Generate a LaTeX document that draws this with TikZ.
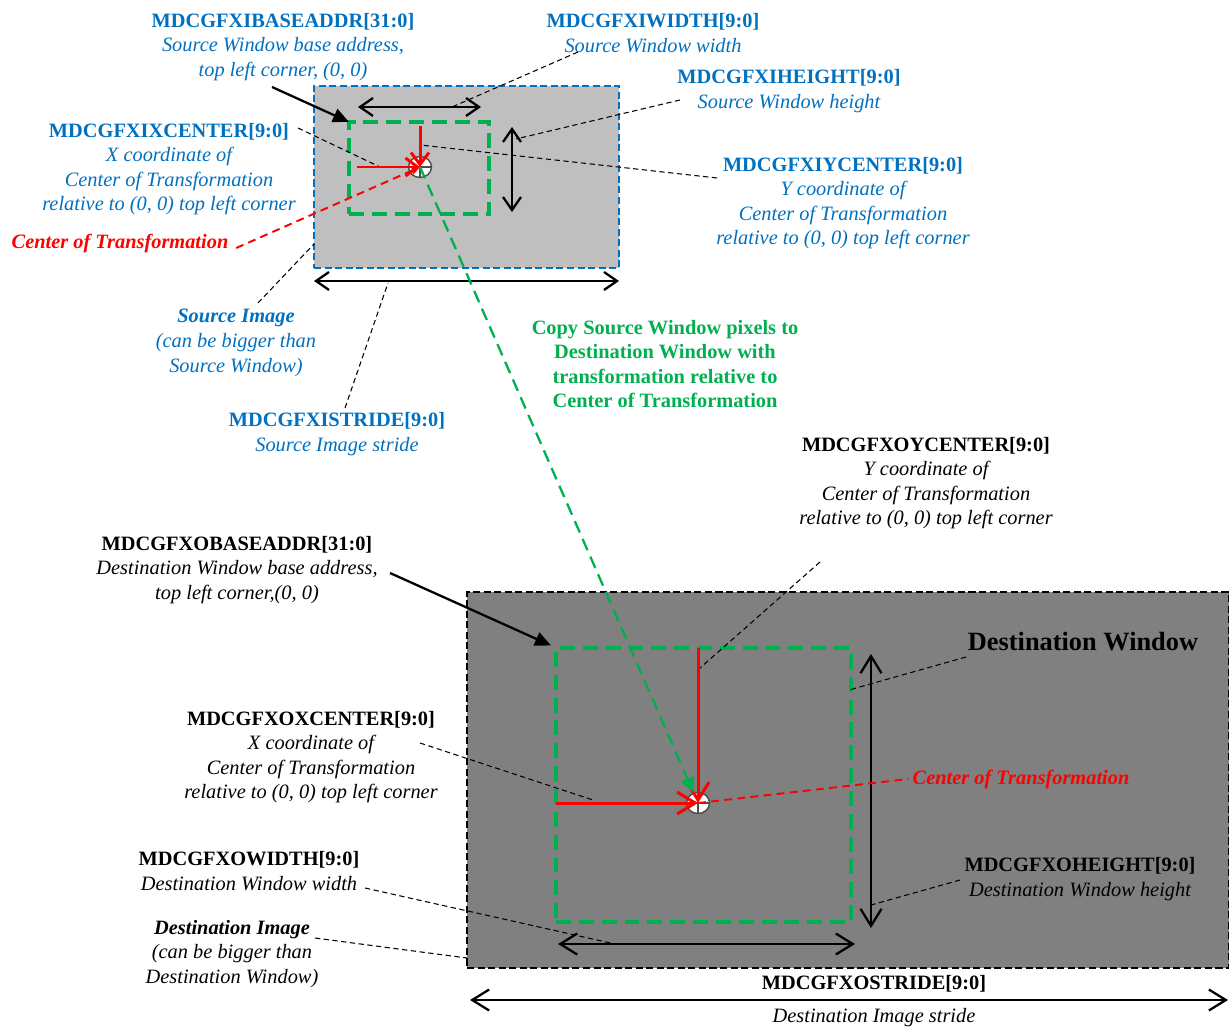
\documentclass[tikz,border=0pt]{standalone}
\usepackage{fontspec}
\setmainfont{Liberation Serif}
\usetikzlibrary{arrows.meta,shapes.geometric,fit}

\definecolor{regblue}{RGB}{0,112,192}
\definecolor{copygreen}{RGB}{0,176,80}
\definecolor{srcgray}{RGB}{191,191,191}
\definecolor{dstgray}{RGB}{128,128,128}

\newcommand{\regname}[1]{\textbf{\upshape #1}}

\begin{document}
\begin{tikzpicture}[
    x=0.02cm, y=-0.02cm,
    lbl/.style={
        align=center,
        inner sep=0pt,
        font=\fontsize{11.6}{14}\selectfont\itshape
    },
    srclbl/.style={lbl, text=regblue},
    dstlbl/.style={lbl, text=black},
    cotlbl/.style={
        inner sep=0pt,
        text=red,
        font=\fontsize{11.6}{14}\selectfont\bfseries\itshape
    },
    imgbox/.style={
        inner sep=0pt,
        outer sep=0pt,
        line width=0.9pt,
        dash pattern=on 4pt off 2pt
    },
    winbox/.style={
        inner sep=0pt,
        outer sep=0pt,
        draw=copygreen,
        line width=2.3pt,
        dash pattern=on 8.5pt off 4.5pt
    },
    ctr/.style={
        ellipse,
        draw=gray!60!black,
        fill=white,
        line width=0.8pt,
        minimum width=0.46cm,
        minimum height=0.42cm,
        inner sep=0pt,
        path picture={
            \draw[gray!60!black, line width=0.7pt]
                (path picture bounding box.west) -- (path picture bounding box.east)
                (path picture bounding box.north) -- (path picture bounding box.south);
        }
    },
    dimarrow/.style={
        {Straight Barb[length=2.6mm,width=3.6mm]}-{Straight Barb[length=2.6mm,width=3.6mm]},
        line width=1.3pt
    },
    bigdim/.style={
        {Straight Barb[length=3.4mm,width=4.2mm]}-{Straight Barb[length=3.4mm,width=4.2mm]},
        line width=1.3pt
    },
    ctrarrow/.style={
        -{Straight Barb[length=2.4mm,width=3.6mm]},
        draw=red,
        line width=1.7pt
    },
    bigctr/.style={
        ctrarrow,
        -{Straight Barb[length=3.6mm,width=4.4mm]}
    },
    basearrow/.style={
        -{Triangle[length=3.2mm,width=2.8mm]},
        line width=1.3pt
    },
    leader/.style={
        line width=0.6pt,
        dash pattern=on 3pt off 2pt
    },
    cotline/.style={
        draw=red,
        line width=1.1pt,
        dash pattern=on 4.5pt off 3pt
    },
    copyline/.style={
        -{Triangle[length=3mm,width=2.8mm]},
        draw=copygreen,
        line width=1.3pt,
        dash pattern=on 7pt off 4pt
    }
]

\useasboundingbox (0,0) rectangle (1229,1030);

% ---------------- Source side ----------------
\coordinate (simg-nw) at (314,86);
\coordinate (simg-se) at (619,268);
\node[imgbox, draw=regblue, fill=srcgray, fit=(simg-nw)(simg-se)] (simg) {};

\coordinate (swin-nw) at (349,122);
\coordinate (swin-se) at (489,214);
\node[winbox, fit=(swin-nw)(swin-se)] (swin) {};

\node[ctr] (sctr) at (420,167) {};

% window width / height / image stride
\coordinate (sw-a) at (358,107);
\coordinate (sw-b) at (481,107);
\draw[dimarrow] (sw-a) -- (sw-b);
\coordinate (sh-a) at (512,127);
\coordinate (sh-b) at (512,212);
\draw[dimarrow] (sh-a) -- (sh-b);
\draw[dimarrow] ([yshift=-0.26cm]simg.south west) -- ([yshift=-0.26cm]simg.south east);

% labels
\node[srclbl] (ibase) at (283,47)
    {\regname{MDCGFXIBASEADDR[31:0]}\\Source Window base address,\\top left corner, (0, 0)};
\node[srclbl] (iwidth) at (653,33)
    {\regname{MDCGFXIWIDTH[9:0]}\\Source Window width};
\node[srclbl] (iheight) at (789,91)
    {\regname{MDCGFXIHEIGHT[9:0]}\\Source Window height};
\node[srclbl] (iycenter) at (843,203)
    {\regname{MDCGFXIYCENTER[9:0]}\\Y coordinate of\\Center of Transformation\\relative to (0, 0) top left corner};
\node[srclbl] (ixcenter) at (169,169)
    {\regname{MDCGFXIXCENTER[9:0]}\\X coordinate of\\Center of Transformation\\relative to (0, 0) top left corner};
\node[cotlbl] (scot) at (120,243) {Center of Transformation};
\node[srclbl] (simglbl) at (236,343)
    {\textbf{Source Image}\\(can be bigger than\\Source Window)};
\node[srclbl] (istride) at (337,434)
    {\regname{MDCGFXISTRIDE[9:0]}\\Source Image stride};

% leaders
\coordinate (ibase-t) at (272,87);
\draw[basearrow] (ibase-t) -- (swin.north west);
\coordinate (iwidth-t) at (578,52);
\coordinate (iwidth-h) at (452,107);
\draw[leader] (iwidth-t) -- (iwidth-h);
\coordinate (iheight-t) at (680,100);
\coordinate (iheight-h) at (516,139);
\draw[leader] (iheight-t) -- (iheight-h);
\coordinate (iycenter-t) at (717,178);
\coordinate (iycenter-h) at (420,145);
\draw[leader] (iycenter-t) -- (iycenter-h);
\coordinate (ixcenter-t) at (298,128);
\coordinate (ixcenter-h) at (380,167);
\draw[leader] (ixcenter-t) -- (ixcenter-h);
\coordinate (simglbl-t) at (258,303);
\coordinate (simglbl-h) at (314,244);
\draw[leader] (simglbl-t) -- (simglbl-h);
\coordinate (istride-t) at (345,408);
\coordinate (istride-h) at (388,283);
\draw[leader] (istride-t) -- (istride-h);

% ---------------- Destination side ----------------
\coordinate (dimg-nw) at (467,592);
\coordinate (dimg-se) at (1229,968);
\node[imgbox, draw=black, fill=dstgray, fit=(dimg-nw)(dimg-se)] (dimg) {};

\coordinate (dwin-nw) at (556,648);
\coordinate (dwin-se) at (851,922);
\node[winbox, fit=(dwin-nw)(dwin-se)] (dwin) {};

\node[ctr] (dctr) at (698,803) {};

% window width / height / image stride
\coordinate (dw-a) at (558,944);
\coordinate (dw-b) at (855,944);
\draw[bigdim] (dw-a) -- (dw-b);
\coordinate (dh-a) at (871,654);
\coordinate (dh-b) at (871,928);
\draw[bigdim] (dh-a) -- (dh-b);
\coordinate (ds-a) at (470,1000);
\coordinate (ds-b) at (1228,1000);
\draw[bigdim] (ds-a) -- (ds-b);

% labels
\node[dstlbl] (obase) at (237,570)
    {\regname{MDCGFXOBASEADDR[31:0]}\\Destination Window base address,\\top left corner,(0, 0)};
\node[dstlbl] (oycenter) at (926,483)
    {\regname{MDCGFXOYCENTER[9:0]}\\Y coordinate of\\Center of Transformation\\relative to (0, 0) top left corner};
\node[inner sep=0pt, font=\fontsize{15}{18}\selectfont\bfseries] (dwinlbl) at (1083,642) {Destination Window};
\node[dstlbl] (oxcenter) at (311,757)
    {\regname{MDCGFXOXCENTER[9:0]}\\X coordinate of\\Center of Transformation\\relative to (0, 0) top left corner};
\node[cotlbl] (dcot) at (1021,779) {Center of Transformation};
\node[dstlbl] (oheight) at (1080,879)
    {\regname{MDCGFXOHEIGHT[9:0]}\\Destination Window height};
\node[dstlbl] (owidth) at (249,871)
    {\regname{MDCGFXOWIDTH[9:0]}\\Destination Window width};
\node[dstlbl] (dimglbl) at (232,954)
    {\textbf{Destination Image}\\(can be bigger than\\Destination Window)};
\node[dstlbl, font=\fontsize{11.6}{14}\selectfont\bfseries] (ostride) at (874,984) {MDCGFXOSTRIDE[9:0]};
\node[dstlbl] (ostridedesc) at (874,1018) {Destination Image stride};

% leaders
\coordinate (obase-t) at (390,573);
\draw[basearrow] (obase-t) -- ([shift={(-0.1cm,0.05cm)}]dwin.north west);
\coordinate (oycenter-t) at (820,562);
\coordinate (oycenter-h) at (700,668);
\draw[leader] (oycenter-t) -- (oycenter-h);
\coordinate (dwinlbl-t) at (966,657);
\coordinate (dwinlbl-h) at (849,690);
\draw[leader] (dwinlbl-t) -- (dwinlbl-h);
\coordinate (oxcenter-t) at (420,743);
\coordinate (oxcenter-h) at (593,800);
\draw[leader] (oxcenter-t) -- (oxcenter-h);
\coordinate (oheight-t) at (960,880);
\coordinate (oheight-h) at (871,905);
\draw[leader] (oheight-t) -- (oheight-h);
\coordinate (owidth-t) at (365,888);
\coordinate (owidth-h) at (615,944);
\draw[leader] (owidth-t) -- (owidth-h);
\coordinate (dimglbl-t) at (315,938);
\coordinate (dimglbl-h) at (467,958);
\draw[leader] (dimglbl-t) -- (dimglbl-h);

% ---------------- Center of transformation markers ----------------
\draw[cotline, -{Stealth[length=2mm,width=1.8mm]}] ([shift={(0.15cm,-0.1cm)}]scot.east) -- (sctr.center);
\draw[cotline] (dctr.center) -- ([xshift=-0.08cm]dcot.west);

\draw[ctrarrow] ([xshift=0.16cm]swin.west |- sctr) -- (sctr.center);
\draw[ctrarrow] ([yshift=-0.08cm]swin.north -| sctr) -- (sctr.center);
\draw[bigctr] (dwin.west |- dctr) -- (dctr.center);
\draw[bigctr] (dwin.north -| dctr) -- (dctr.center);

% copy path
\node[font=\fontsize{11.6}{14}\selectfont\bfseries, text=copygreen, align=center, inner sep=0pt] (copy) at (665,364)
    {Copy Source Window pixels to\\Destination Window with\\transformation relative to\\Center of Transformation};
\draw[copyline] (sctr.center) -- (dctr);

\end{tikzpicture}
\end{document}
